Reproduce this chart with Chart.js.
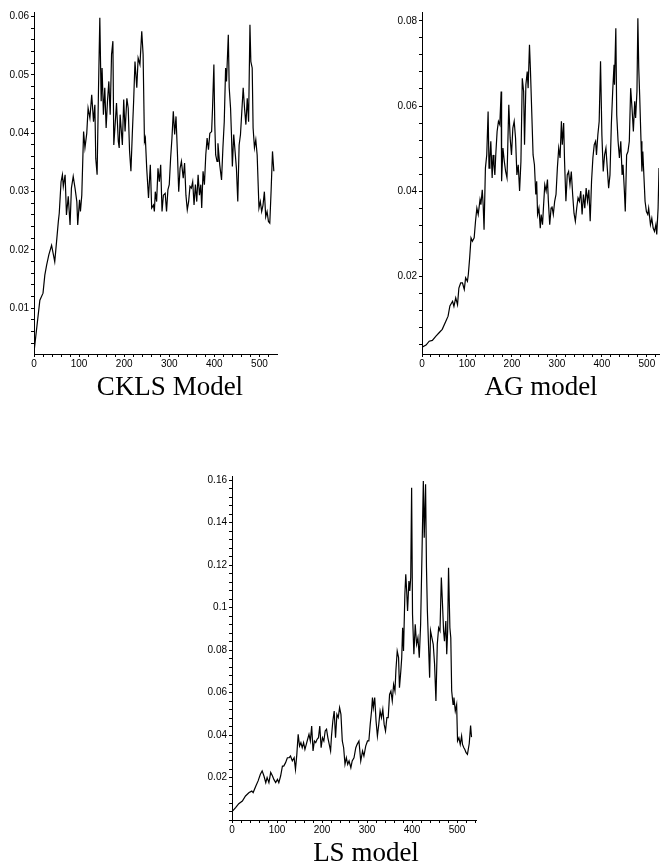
<!DOCTYPE html>
<html><head><meta charset="utf-8">
<script src="https://cdn.jsdelivr.net/npm/chart.js@4.4.1/dist/chart.umd.min.js"></script>
<style>
html,body{margin:0;padding:0;background:#fff;width:662px;height:866px;overflow:hidden;position:relative}
canvas{position:absolute;display:block}
.t{position:absolute;font-family:"Liberation Serif","Times New Roman",serif;font-size:27px;color:#000;white-space:nowrap;transform:translateX(-50%);line-height:1}
</style></head><body>
<canvas id="c1" width="290" height="372" style="left:0;top:0"></canvas>
<canvas id="c2" width="282" height="372" style="left:380px;top:0"></canvas>
<canvas id="c3" width="300" height="380" style="left:190px;top:460px"></canvas>
<div class="t" style="left:170px;top:373px">CKLS Model</div>
<div class="t" style="left:541px;top:373px">AG model</div>
<div class="t" style="left:366px;top:839px">LS model</div>
<script>
// ---------- data ----------
const titles = ["CKLS Model", "AG model", "LS model"];
const xTickLabels = [0, 100, 200, 300, 400, 500];

const cklsT = [0,13,20,24,28,33,39,43,46,50,54,56,60,63,65,69,72,76,80,83,87,91,95,97,101,103,106,110,113,117,120,124,128,132,135,137,140,143,146,149,151,154,157,160,163,166,169,172,175,177,180,183,187,189,191,196,199,202,206,209,212,215,218,221,224,228,231,235,239,242,245,247,250,254,258,261,265,267,269,272,275,278,281,284,287,291,294,297,300,303,306,309,312,315,318,321,324,327,331,334,337,340,343,346,349,352,355,358,361,364,367,370,372,375,378,381,384,387,390,394,396,399,401,403,406,408,412,416,419,422,425,427,431,433,436,438,440,443,446,449,452,455,458,461,464,467,470,473,476,479,481,484,486,489,492,495,499,502,505,508,511,514,517,520,523,526,529,532];
const cklsV = [0.0025,0.0114,0.0126,0.0157,0.0174,0.0192,0.0208,0.0192,0.018,0.0214,0.0249,0.0263,0.0317,0.0329,0.0309,0.0329,0.026,0.0292,0.0243,0.0306,0.0326,0.0306,0.0283,0.0243,0.0286,0.0266,0.0294,0.0403,0.0375,0.040,0.0443,0.0426,0.0466,0.042,0.0449,0.0357,0.0329,0.0472,0.0598,0.0455,0.0512,0.0432,0.0478,0.0409,0.0455,0.0489,0.0432,0.0535,0.0558,0.038,0.0415,0.0452,0.0386,0.0375,0.0432,0.038,0.0458,0.0403,0.046,0.0443,0.0369,0.0335,0.0398,0.0455,0.0523,0.0478,0.0529,0.0518,0.0575,0.0535,0.0386,0.0392,0.034,0.0289,0.0346,0.0272,0.0277,0.0266,0.030,0.0283,0.034,0.0317,0.0346,0.0266,0.0294,0.0297,0.0266,0.0303,0.0312,0.0357,0.0392,0.0438,0.0398,0.0429,0.0369,0.030,0.034,0.0352,0.0323,0.0349,0.0294,0.0269,0.0283,0.0309,0.0306,0.0317,0.0277,0.0312,0.0283,0.0329,0.0294,0.0312,0.0272,0.0335,0.0312,0.0363,0.0392,0.0372,0.040,0.0403,0.0443,0.0518,0.0415,0.0363,0.0352,0.0383,0.0346,0.032,0.0375,0.042,0.0512,0.0489,0.0569,0.0478,0.0443,0.0398,0.0343,0.0398,0.0369,0.034,0.0283,0.038,0.0398,0.0438,0.0478,0.0443,0.0415,0.046,0.042,0.0586,0.0523,0.0512,0.0409,0.0375,0.0389,0.0363,0.0272,0.0283,0.0266,0.0277,0.030,0.0257,0.0266,0.0249,0.0246,0.0303,0.0369,0.0335];
const cklsYTicks = [0.01, 0.02, 0.03, 0.04, 0.05, 0.06];

const agT = [0,9,16,23,31,38,45,53,58,62,68,71,75,79,82,86,90,94,97,101,103,106,109,112,116,119,122,125,129,131,134,136,138,141,144,147,149,151,153,156,158,160,162,164,167,170,173,176,177,180,183,186,189,191,193,196,199,202,205,208,211,214,217,220,223,226,228,231,234,236,239,241,244,247,250,253,255,257,260,263,265,268,270,273,276,279,281,284,287,289,292,295,298,301,304,307,310,312,315,317,320,323,326,329,332,335,338,341,344,347,350,353,356,359,362,365,368,371,374,377,380,383,386,388,391,394,397,400,403,406,409,412,415,418,421,424,427,428,431,433,436,439,442,445,447,450,452,455,458,461,464,467,470,473,475,478,480,482,484,487,489,491,493,496,499,502,504,508,511,514,517,520,522,525,527];
const agV = [0.0033,0.0038,0.0047,0.0049,0.0059,0.0067,0.0075,0.0094,0.0106,0.013,0.0141,0.0129,0.0149,0.0133,0.0172,0.0184,0.0184,0.0169,0.0196,0.0188,0.0204,0.0243,0.029,0.0282,0.029,0.0329,0.036,0.0345,0.038,0.0368,0.0403,0.0368,0.0309,0.0454,0.0485,0.0587,0.0454,0.0478,0.0517,0.0431,0.0485,0.0462,0.0438,0.0485,0.054,0.0564,0.0556,0.0634,0.0423,0.0501,0.047,0.0446,0.0431,0.0517,0.0603,0.0525,0.0485,0.0548,0.0564,0.0525,0.0438,0.0462,0.040,0.047,0.0665,0.0634,0.0509,0.065,0.0681,0.0642,0.0744,0.0689,0.0587,0.0485,0.0462,0.0392,0.0423,0.0345,0.036,0.0313,0.0345,0.0321,0.036,0.0415,0.040,0.0427,0.0376,0.0321,0.036,0.0364,0.0345,0.0376,0.0392,0.0454,0.0501,0.0478,0.0564,0.0509,0.056,0.047,0.0376,0.0438,0.0446,0.0415,0.0446,0.0392,0.0348,0.0329,0.036,0.0384,0.0376,0.040,0.0345,0.0392,0.036,0.0407,0.0376,0.0403,0.0329,0.0423,0.0478,0.0509,0.0517,0.0485,0.0532,0.0564,0.0705,0.0532,0.0446,0.0485,0.0501,0.0454,0.0407,0.0438,0.0556,0.0634,0.0697,0.065,0.0783,0.0579,0.0517,0.0478,0.0517,0.0438,0.0462,0.040,0.0352,0.0485,0.0493,0.0517,0.0642,0.0595,0.054,0.0611,0.0572,0.0634,0.0806,0.0689,0.0626,0.0517,0.0446,0.0493,0.0446,0.0376,0.0352,0.0345,0.036,0.0321,0.0336,0.0313,0.0305,0.0321,0.0298,0.036,0.0454];
const agYTicks = [0.02, 0.04, 0.06, 0.08];

const lsT = [0,8,15,23,30,38,44,47,53,58,63,67,71,75,78,82,86,90,93,97,101,104,108,112,115,119,123,127,130,134,138,141,144,147,150,153,156,159,162,165,168,171,174,177,180,183,186,189,192,195,198,201,204,207,210,213,216,219,221,224,227,230,233,236,239,242,245,248,251,254,257,260,264,267,271,275,278,282,286,290,293,297,301,304,307,310,312,314,317,320,323,326,329,332,335,338,341,344,347,350,353,356,359,362,364,367,370,372,375,377,379,381,384,386,388,390,393,395,397,399,401,404,407,410,413,416,419,422,425,427,430,432,434,437,439,441,444,447,450,453,456,459,462,465,467,470,472,475,477,479,481,484,486,488,491,493,496,499,501,504,507,510,512,515,517,520,523,527,530,532];
const lsV = [0.0039,0.0058,0.0077,0.0089,0.0113,0.0129,0.0136,0.0129,0.016,0.0184,0.0215,0.0231,0.0207,0.0176,0.020,0.0176,0.0224,0.0207,0.0191,0.0176,0.0191,0.0176,0.0207,0.0254,0.0254,0.027,0.0293,0.0293,0.0301,0.0278,0.0293,0.0238,0.0309,0.0403,0.0348,0.0364,0.034,0.0364,0.0332,0.0356,0.038,0.0403,0.0372,0.0442,0.0325,0.0372,0.0364,0.038,0.0387,0.0442,0.034,0.0387,0.0372,0.0419,0.0427,0.0387,0.0356,0.0325,0.0395,0.0466,0.0513,0.0387,0.0497,0.0482,0.0529,0.0497,0.0372,0.034,0.0262,0.0293,0.0262,0.0278,0.0246,0.0278,0.0293,0.034,0.0356,0.0372,0.0278,0.0325,0.0301,0.0348,0.0372,0.0372,0.045,0.0513,0.0576,0.0529,0.0576,0.0466,0.0395,0.045,0.0513,0.0482,0.0521,0.045,0.0419,0.0482,0.0482,0.0591,0.0607,0.056,0.0638,0.0607,0.0701,0.0795,0.0764,0.0623,0.0701,0.0764,0.0905,0.0795,0.1062,0.1156,0.1078,0.0984,0.1125,0.1078,0.1141,0.1564,0.0968,0.078,0.0921,0.0827,0.0858,0.0764,0.0921,0.125,0.1595,0.1329,0.158,0.1187,0.0984,0.0795,0.067,0.089,0.0858,0.0827,0.0733,0.056,0.0827,0.0905,0.089,0.1141,0.1046,0.089,0.0842,0.0936,0.078,0.089,0.1187,0.0905,0.0858,0.0607,0.0544,0.0576,0.0513,0.0544,0.0372,0.0387,0.0356,0.0395,0.0356,0.034,0.0333,0.0317,0.0309,0.036,0.0445,0.039];
const lsYTicks = [0.02, 0.04, 0.06, 0.08, 0.1, 0.12, 0.14, 0.16];

// ---------- drawing ----------
function range(lo, hi, step) {
  const out = [];
  for (let k = Math.ceil(lo / step - 1e-9); k * step <= hi + 1e-12; k++) out.push(+(k * step).toFixed(6));
  return out;
}
function isIn(list, v) { return list.some(m => Math.abs(m - v) < 1e-9); }
function fmt(v) { return String(parseFloat(v.toFixed(4))); }

function makeChart(id, T, V, yMajor, o) {
  const pts = T.map((t, i) => ({ x: t, y: V[i] }));
  const xMinor = range(0, o.xMax, 20);
  const yMinor = range(o.yMin, o.yMax, o.yStep);
  const labelFont = { family: "'Liberation Sans', Arial, sans-serif", size: 10 };
  new Chart(document.getElementById(id), {
    type: 'line',
    data: { datasets: [{ data: pts, borderColor: '#000', borderWidth: 1.2, pointRadius: 0, tension: 0, fill: false }] },
    options: {
      responsive: false, animation: false, events: [],
      layout: { padding: { top: o.padTop, right: o.padRight, left: 0, bottom: 0 } },
      plugins: { legend: { display: false }, tooltip: { enabled: false } },
      scales: {
        x: {
          type: 'linear', min: 0, max: o.xMax,
          afterBuildTicks: s => { s.ticks = xMinor.map(v => ({ value: v })); },
          afterFit: s => { s.height = o.xH; },
          ticks: { autoSkip: false, maxRotation: 0, padding: 1, color: '#000', font: labelFont,
                   callback: v => isIn(xTickLabels, v) ? String(v) : '' },
          grid: { display: true, drawOnChartArea: false, drawTicks: true, tickLength: 3, color: '#000', tickColor: '#000', lineWidth: 1 },
          border: { display: true, color: '#000', width: 1 }
        },
        y: {
          type: 'linear', min: o.yMin, max: o.yMax,
          afterBuildTicks: s => { s.ticks = yMinor.map(v => ({ value: v })); },
          afterFit: s => { s.width = o.yW; },
          ticks: { autoSkip: false, padding: 2, color: '#000', font: labelFont,
                   callback: v => isIn(yMajor, v) ? fmt(v) : '' },
          grid: { display: true, drawOnChartArea: false, drawTicks: true, tickLength: 3, color: '#000', tickColor: '#000', lineWidth: 1 },
          border: { display: true, color: '#000', width: 1 }
        }
      }
    }
  });
}

makeChart('c1', cklsT, cklsV, cklsYTicks, { xMax: 539, yMin: 0.00217, yMax: 0.0608, yStep: 0.002, yW: 34, xH: 18, padTop: 12, padRight: 13 });
makeChart('c2', agT, agV, agYTicks, { xMax: 527, yMin: 0.0017, yMax: 0.0821, yStep: 0.004, yW: 42, xH: 18, padTop: 12, padRight: 3 });
makeChart('c3', lsT, lsV, lsYTicks, { xMax: 542, yMin: 0, yMax: 0.1619, yStep: 0.004, yW: 42, xH: 20, padTop: 16, padRight: 14 });
</script>
</body></html>
